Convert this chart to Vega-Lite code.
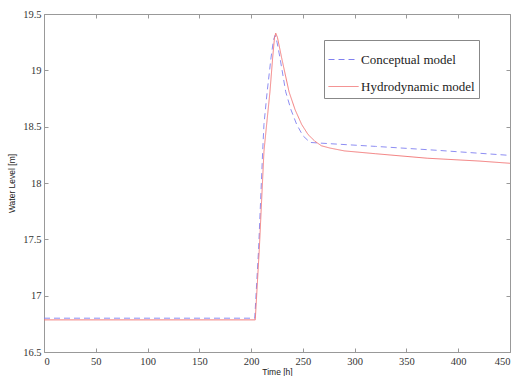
{
  "$schema": "https://vega.github.io/schema/vega-lite/v6.json",
  "width": 466,
  "height": 338,
  "autosize": {"type": "none"},
  "padding": {"left": 44, "top": 14, "right": 9, "bottom": 24},
  "background": "white",
  "config": {
    "view": {"stroke": "#999", "strokeWidth": 1},
    "axis": {
      "grid": false,
      "domain": false,
      "tickColor": "#999",
      "tickSize": -4,
      "labelFont": "Liberation Serif",
      "labelFontSize": 10,
      "labelColor": "#333",
      "titleFont": "Liberation Sans",
      "titleFontSize": 8.5,
      "titleFontWeight": "normal",
      "titleColor": "#222"
    }
  },
  "data": {
    "values": [
      {"t": 0, "v": 16.80, "model": "Conceptual model"},
      {"t": 203.5, "v": 16.80, "model": "Conceptual model"},
      {"t": 207.2, "v": 17.41, "model": "Conceptual model"},
      {"t": 211.2, "v": 18.29, "model": "Conceptual model"},
      {"t": 212.4, "v": 18.52, "model": "Conceptual model"},
      {"t": 215.5, "v": 18.81, "model": "Conceptual model"},
      {"t": 219.2, "v": 19.11, "model": "Conceptual model"},
      {"t": 221.6, "v": 19.27, "model": "Conceptual model"},
      {"t": 223.2, "v": 19.31, "model": "Conceptual model"},
      {"t": 225.0, "v": 19.25, "model": "Conceptual model"},
      {"t": 227.9, "v": 19.11, "model": "Conceptual model"},
      {"t": 233.4, "v": 18.81, "model": "Conceptual model"},
      {"t": 238.5, "v": 18.65, "model": "Conceptual model"},
      {"t": 244.0, "v": 18.52, "model": "Conceptual model"},
      {"t": 250.0, "v": 18.42, "model": "Conceptual model"},
      {"t": 256.9, "v": 18.36, "model": "Conceptual model"},
      {"t": 265, "v": 18.355, "model": "Conceptual model"},
      {"t": 320, "v": 18.325, "model": "Conceptual model"},
      {"t": 380, "v": 18.29, "model": "Conceptual model"},
      {"t": 450, "v": 18.245, "model": "Conceptual model"},
      {"t": 0, "v": 16.785, "model": "Hydrodynamic model"},
      {"t": 204, "v": 16.785, "model": "Hydrodynamic model"},
      {"t": 207.9, "v": 17.41, "model": "Hydrodynamic model"},
      {"t": 212.4, "v": 18.28, "model": "Hydrodynamic model"},
      {"t": 215.0, "v": 18.52, "model": "Hydrodynamic model"},
      {"t": 218.2, "v": 18.81, "model": "Hydrodynamic model"},
      {"t": 220.8, "v": 19.11, "model": "Hydrodynamic model"},
      {"t": 222.6, "v": 19.29, "model": "Hydrodynamic model"},
      {"t": 223.8, "v": 19.33, "model": "Hydrodynamic model"},
      {"t": 225.5, "v": 19.29, "model": "Hydrodynamic model"},
      {"t": 229.5, "v": 19.11, "model": "Hydrodynamic model"},
      {"t": 236.6, "v": 18.81, "model": "Hydrodynamic model"},
      {"t": 242.5, "v": 18.65, "model": "Hydrodynamic model"},
      {"t": 248.8, "v": 18.52, "model": "Hydrodynamic model"},
      {"t": 255.0, "v": 18.43, "model": "Hydrodynamic model"},
      {"t": 261.7, "v": 18.37, "model": "Hydrodynamic model"},
      {"t": 268, "v": 18.33, "model": "Hydrodynamic model"},
      {"t": 276.2, "v": 18.31, "model": "Hydrodynamic model"},
      {"t": 290, "v": 18.285, "model": "Hydrodynamic model"},
      {"t": 320, "v": 18.26, "model": "Hydrodynamic model"},
      {"t": 370, "v": 18.22, "model": "Hydrodynamic model"},
      {"t": 420, "v": 18.195, "model": "Hydrodynamic model"},
      {"t": 450, "v": 18.175, "model": "Hydrodynamic model"}
    ]
  },
  "layer": [
    {
      "mark": {"type": "line", "opacity": 0},
      "encoding": {
        "x": {"field": "t", "type": "quantitative", "scale": {"domain": [0, 450], "nice": false, "zero": false},
              "axis": {"orient": "top", "labels": false, "title": null, "values": [0, 50, 100, 150, 200, 250, 300, 350, 400, 450]}},
        "y": {"field": "v", "type": "quantitative", "scale": {"domain": [16.5, 19.5], "nice": false, "zero": false},
              "axis": {"orient": "right", "labels": false, "title": null, "values": [16.5, 17, 17.5, 18, 18.5, 19, 19.5]}},
        "detail": {"field": "model", "type": "nominal"}
      }
    },
    {
      "mark": {"type": "line", "strokeWidth": 0.9},
      "encoding": {
        "x": {"field": "t", "type": "quantitative", "scale": {"domain": [0, 450], "nice": false, "zero": false},
              "axis": {"orient": "bottom", "title": "Time [h]", "values": [0, 50, 100, 150, 200, 250, 300, 350, 400, 450], "format": "d", "labelPadding": 8, "titlePadding": 1, "labelFont": "Liberation Serif", "labelFontSize": 10.5, "titleFont": "Liberation Sans"}},
        "y": {"field": "v", "type": "quantitative", "scale": {"domain": [16.5, 19.5], "nice": false, "zero": false},
              "axis": {"orient": "left", "title": "Water Level [m]", "values": [16.5, 17, 17.5, 18, 18.5, 19, 19.5], "format": "~g", "labelPadding": 7, "titlePadding": 6, "labelFont": "Liberation Serif", "labelFontSize": 10.5, "titleFont": "Liberation Sans"}},
        "color": {"field": "model", "type": "nominal",
                  "scale": {"domain": ["Conceptual model", "Hydrodynamic model"], "range": ["#8080f0", "#f07070"]},
                  "legend": {"title": null, "orient": "none", "legendX": 280, "legendY": 26, "symbolType": "stroke", "symbolSize": 900, "symbolStrokeWidth": 1, "labelFont": "Liberation Serif", "labelFontSize": 13, "labelColor": "#222", "padding": 4, "rowPadding": 4, "labelOffset": 2, "strokeColor": "#888", "fillColor": "white"}},
        "strokeDash": {"field": "model", "type": "nominal",
                  "scale": {"domain": ["Conceptual model", "Hydrodynamic model"], "range": [[6, 4], [1, 0]]},
                  "legend": {"title": null, "orient": "none", "legendX": 280, "legendY": 26, "symbolType": "stroke", "symbolSize": 900, "symbolStrokeWidth": 1, "labelFont": "Liberation Serif", "labelFontSize": 13, "labelColor": "#222", "padding": 4, "rowPadding": 4, "labelOffset": 2, "strokeColor": "#888", "fillColor": "white"}}
      }
    }
  ],
  "resolve": {"axis": {"x": "independent", "y": "independent"}}
}
